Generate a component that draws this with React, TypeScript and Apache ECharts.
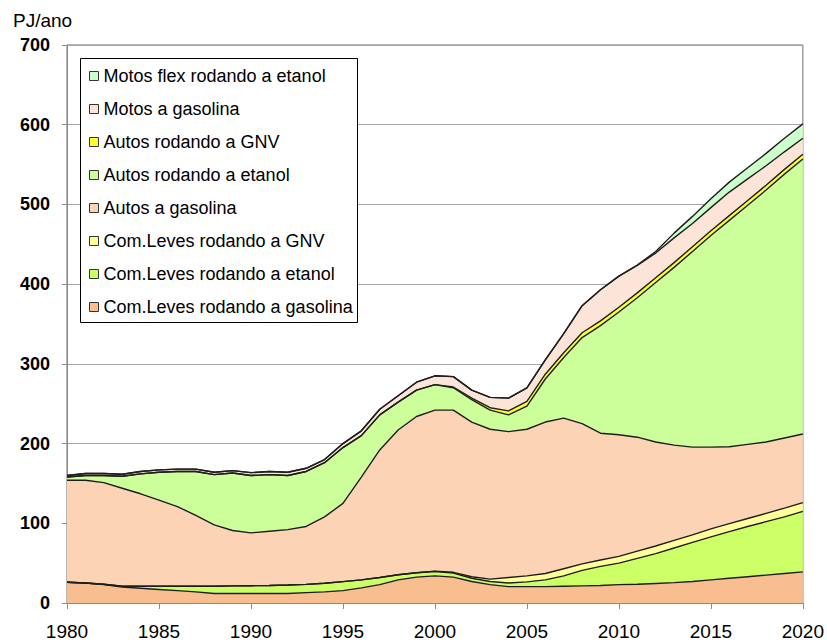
import React, { useEffect, useRef } from "react";
import * as echarts from "echarts";

const years = [
  "1980", "1981", "1982", "1983", "1984", "1985", "1986", "1987", "1988", "1989",
  "1990", "1991", "1992", "1993", "1994", "1995", "1996", "1997", "1998", "1999",
  "2000", "2001", "2002", "2003", "2004", "2005", "2006", "2007", "2008", "2009",
  "2010", "2011", "2012", "2013", "2014", "2015", "2016", "2017", "2018", "2019", "2020",
];

// PJ/ano per category (stacked bottom to top)
const comLevesGasolina = [
  26, 25, 23, 20, 18.5, 17, 15.5, 14, 12, 12,
  12, 12, 12, 13, 14, 15.5, 19, 23, 29, 32.5,
  34, 32.5, 27, 23, 20.5, 20.5, 20.5, 21, 21.5, 22,
  23, 23.5, 24.5, 25.5, 27, 29, 31, 33, 35, 37, 39,
];
const comLevesEtanol = [
  0, 0, 0.5, 1, 2.5, 4, 5.5, 7, 9, 9.5,
  9.7, 10, 10.6, 10.4, 10.7, 11.3, 10, 9, 6.5, 5.5,
  5.5, 5, 4, 4, 4.5, 6, 8.5, 13, 19.5, 24,
  27, 32.5, 37.5, 43.5, 49, 54, 58.5, 63, 67, 71, 76,
];
const comLevesGNV = [
  0, 0, 0, 0, 0, 0, 0, 0, 0, 0,
  0, 0, 0, 0, 0, 0, 0, 0, 0, 0,
  0.5, 1, 2, 3, 7, 7.5, 8, 9, 8, 8,
  8.5, 9, 9.5, 9.5, 9.5, 10, 10, 10, 10.5, 11, 11,
];
const autosGasolina = [
  128, 129, 127.5, 123, 116, 108, 100, 89, 77, 69.5,
  66.3, 68, 69.4, 72.6, 83.3, 98.2, 129, 160, 181.5, 196,
  202, 203.5, 194, 188, 183, 184, 190, 189, 176, 159,
  152.5, 143, 130.5, 119.5, 110, 102.5, 96.5, 93, 89.5, 88, 86,
];
const autosEtanol = [
  4, 6, 9, 15, 25, 35, 44, 55, 63, 72,
  72, 71, 68, 69, 68, 70, 52, 44, 35, 33,
  32, 28, 28, 24, 21, 29, 54, 76, 108, 135,
  154, 175, 200, 223, 245.5, 265.5, 284, 300, 316, 331, 345,
];
const autosGNV = [
  0, 0, 0, 0, 0, 0, 0, 0, 0, 0,
  0, 0, 0, 0, 0, 0, 0, 0, 0, 0,
  0, 1, 2, 3, 5, 6, 6, 6, 6, 6,
  6, 6, 6, 6, 6, 6, 6, 6, 6, 6, 6,
];
const motosGasolina = [
  2, 2.5, 2.5, 2.5, 3, 3, 3, 3, 3, 3,
  3.5, 4, 4, 4, 4, 5, 6, 7, 8, 10,
  11, 13, 10, 13, 16, 17, 18, 24, 34, 39,
  39, 34.5, 31, 31, 29, 29, 29.5, 27, 24.5, 22, 20,
];
const motosFlexEtanol = [
  0, 0, 0, 0, 0, 0, 0, 0, 0, 0,
  0, 0, 0, 0, 0, 0, 0, 0, 0, 0,
  0, 0, 0, 0, 0, 0, 0, 0, 0, 0,
  0, 0.5, 2, 6, 9, 11, 12.5, 14, 15.5, 17, 18,
];

const seriesNames = [
  "Com.Leves rodando a gasolina",
  "Com.Leves rodando a etanol",
  "Com.Leves rodando a GNV",
  "Autos a gasolina",
  "Autos rodando a etanol",
  "Autos rodando a GNV",
  "Motos a gasolina",
  "Motos flex rodando a etanol",
];
const seriesValues = [
  comLevesGasolina,
  comLevesEtanol,
  comLevesGNV,
  autosGasolina,
  autosEtanol,
  autosGNV,
  motosGasolina,
  motosFlexEtanol,
];
const seriesColors = [
  "#F9BE90",
  "#CCFF66",
  "#FFFF99",
  "#FCD3B4",
  "#CCFF99",
  "#FFFF33",
  "#FCE5D8",
  "#CCFFCC",
];

const yTicks = { min: 0, max: 700, interval: 100 };

const FONT = "'Liberation Sans', Arial, sans-serif";

export default function App() {
  const ref = useRef<HTMLDivElement>(null);

  useEffect(() => {
    document.body.style.margin = "0";
    if (!ref.current) return;
    const chart = echarts.init(ref.current, undefined, { renderer: "svg" });

    const series = seriesNames.map((name, k) => ({
      name,
      type: "line",
      stack: "total",
      symbol: "none",
      showSymbol: false,
      smooth: false,
      data: seriesValues[k],
      itemStyle: { color: seriesColors[k] },
      lineStyle: { color: "#1e1e1e", width: 1.4 },
      areaStyle: { color: seriesColors[k], opacity: 1 },
    }));

    chart.setOption({
      animation: false,
      backgroundColor: "#ffffff",
      grid: {
        left: 67,
        right: 24,
        top: 45,
        bottom: 40,
        show: true,
        borderColor: "#6e6e6e",
        borderWidth: 1,
        backgroundColor: "transparent",
      },
      xAxis: {
        type: "category",
        data: years,
        boundaryGap: false,
        axisLine: { show: true, lineStyle: { color: "#8c8c8c", width: 1 } },
        axisTick: {
          show: true,
          inside: false,
          length: 6,
          interval: 4,
          lineStyle: { color: "#8c8c8c" },
        },
        splitLine: { show: false },
        axisLabel: {
          interval: 4,
          margin: 19,
          color: "#000",
          fontFamily: FONT,
          fontSize: 19,
        },
      },
      yAxis: {
        type: "value",
        min: yTicks.min,
        max: yTicks.max,
        interval: yTicks.interval,
        axisLine: { show: true, lineStyle: { color: "#8c8c8c", width: 1 } },
        axisTick: { show: true, inside: false, length: 5, lineStyle: { color: "#8c8c8c" } },
        splitLine: { show: true, lineStyle: { color: "#a6a6a6", width: 1 } },
        axisLabel: {
          margin: 17,
          color: "#000",
          fontFamily: FONT,
          fontSize: 18,
          fontWeight: "bold",
        },
      },
      legend: {
        show: true,
        orient: "vertical",
        left: 80,
        top: 58,
        padding: [8, 8, 5, 9],
        icon: "rect",
        itemWidth: 9,
        itemHeight: 9,
        itemGap: 13,
        data: seriesNames.slice().reverse(),
        itemStyle: { borderColor: "#333333", borderWidth: 1 },
        textStyle: {
          color: "#000",
          fontFamily: FONT,
          fontSize: 18,
          lineHeight: 20,
        },
        selectedMode: false,
        z: 10,
      },
      graphic: [
        {
          type: "rect",
          z: 5,
          shape: { x: 80.5, y: 58.5, width: 277, height: 264 },
          style: { fill: "#ffffff", stroke: "#000000", lineWidth: 1 },
        },
        {
          type: "text",
          left: 13,
          top: 11,
          style: {
            text: "PJ/ano",
            fill: "#000",
            font: `19px ${FONT}`,
          },
        },
      ],
      series,
    });

    return () => {
      chart.dispose();
    };
  }, []);

  return <div ref={ref} style={{ width: 827, height: 643 }} />;
}
